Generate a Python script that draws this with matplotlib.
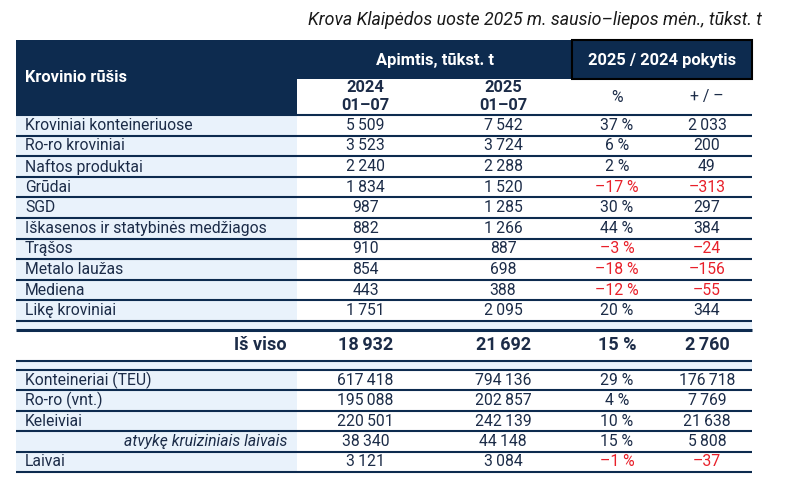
import matplotlib.pyplot as plt
from matplotlib.patches import Rectangle

plt.rcParams['font.family'] = ['Roboto', 'DejaVu Sans']

title = 'Krova Klaipėdos uoste 2025 m. sausio–liepos mėn., tūkst. t'

cargo = ['Kroviniai konteineriuose', 'Ro-ro kroviniai', 'Naftos produktai', 'Grūdai', 'SGD',
         'Iškasenos ir statybinės medžiagos', 'Trąšos', 'Metalo laužas', 'Mediena', 'Likę kroviniai']
v2024 = [5509, 3523, 2240, 1834, 987, 882, 910, 854, 443, 1751]
v2025 = [7542, 3724, 2288, 1520, 1285, 1266, 887, 698, 388, 2095]
pct = [37, 6, 2, -17, 30, 44, -3, -18, -12, 20]
diff = [2033, 200, 49, -313, 297, 384, -24, -156, -55, 344]

total_label = 'Iš viso'
total = [18932, 21692, 15, 2760]

other = ['Konteineriai (TEU)', 'Ro-ro (vnt.)', 'Keleiviai', 'atvykę kruiziniais laivais', 'Laivai']
o2024 = [617418, 195088, 220501, 38340, 3121]
o2025 = [794136, 202857, 242139, 44148, 3084]
opct = [29, 4, 10, 15, -1]
odiff = [176718, 7769, 21638, 5808, -37]

NAVY = '#0d2b4f'
TXT = '#1c2c48'
LIGHT = '#e9f2fb'
RED = '#e8202a'
FS = 11.3
HFS = 11.9


def fmt(v):
    s = f'{abs(v):,}'.replace(',', '\u2009')
    return ('–' if v < 0 else '') + s


fig = plt.figure(figsize=(7.87, 4.84), dpi=100)
ax = fig.add_axes([0, 0, 1, 1])
ax.set_xlim(0, 787)
ax.set_ylim(484, 0)
ax.axis('off')

L, R = 16, 752
cols = [16, 297, 434, 572, 662, 752]
cx = [(cols[i] + cols[i + 1]) / 2 for i in range(1, 5)]

ax.text(762, 20, title, ha='right', va='center', style='italic', fontsize=12.8, color='#1a1a1a')

# header
ax.add_patch(Rectangle((L, 40), R - L, 39, color=NAVY, lw=0))
ax.add_patch(Rectangle((L, 79), cols[1] - L, 36, color=NAVY, lw=0))
ax.add_patch(Rectangle((572, 40), 180, 39, fill=False, ec='black', lw=1.5))
ax.text(25, 78, 'Krovinio rūšis', color='white', fontweight='bold', fontsize=HFS, va='center')
ax.text((cols[1] + cols[3]) / 2, 60, 'Apimtis, tūkst. t', color='white', fontweight='bold',
        fontsize=HFS, ha='center', va='center')
ax.text((cols[3] + cols[5]) / 2, 60, '2025 / 2024 pokytis', color='white', fontweight='bold',
        fontsize=HFS, ha='center', va='center')
for x, yr in zip(cx[:2], ['2024', '2025']):
    ax.text(x, 88, yr, color=TXT, fontweight='bold', fontsize=HFS, ha='center', va='center')
    ax.text(x, 106, '01–07', color=TXT, fontweight='bold', fontsize=HFS, ha='center', va='center')
ax.text(cx[2], 97, '%', color=TXT, fontsize=FS, ha='center', va='center')
ax.text(cx[3], 97, '+ / –', color=TXT, fontsize=FS, ha='center', va='center')


def draw_rows(names, a, b, p, d, y0, h):
    for i in range(len(names)):
        top = y0 + i * h
        yc = top + h / 2
        ax.add_patch(Rectangle((L, top), cols[1] - L, h, color=LIGHT, lw=0))
        if names[i].startswith('atvykę'):
            ax.text(287, yc, names[i], ha='right', va='center', style='italic', fontsize=FS, color=TXT)
        else:
            ax.text(25, yc, names[i], ha='left', va='center', fontsize=FS, color=TXT)
        ax.text(cx[0], yc, fmt(a[i]), ha='center', va='center', fontsize=FS, color=TXT)
        ax.text(cx[1], yc, fmt(b[i]), ha='center', va='center', fontsize=FS, color=TXT)
        c = RED if p[i] < 0 else TXT
        ax.text(cx[2], yc, fmt(p[i]) + ' %', ha='center', va='center', fontsize=FS, color=c)
        c = RED if d[i] < 0 else TXT
        ax.text(cx[3], yc, fmt(d[i]), ha='center', va='center', fontsize=FS, color=c)
        ax.hlines(top + h, L, R, color=NAVY, lw=1.5)
    ax.hlines(y0, L, R, color=NAVY, lw=1.5)


draw_rows(cargo, v2024, v2025, pct, diff, 115, 20.6)

# spacer bands and total
ax.add_patch(Rectangle((L, 321), R - L, 9, color=LIGHT, lw=0))
ax.add_patch(Rectangle((L, 361), R - L, 9, color=LIGHT, lw=0))
ax.hlines(330, L, R, color=NAVY, lw=2.2)
ax.hlines(361, L, R, color=NAVY, lw=1.5)
TFS = 13
ax.text(287, 345.5, total_label, ha='right', va='center', fontweight='bold', fontsize=TFS, color=TXT)
ax.text(cx[0], 345.5, fmt(total[0]), ha='center', va='center', fontweight='bold', fontsize=TFS, color=TXT)
ax.text(cx[1], 345.5, fmt(total[1]), ha='center', va='center', fontweight='bold', fontsize=TFS, color=TXT)
ax.text(cx[2], 345.5, fmt(total[2]) + ' %', ha='center', va='center', fontweight='bold', fontsize=TFS, color=TXT)
ax.text(cx[3], 345.5, fmt(total[3]), ha='center', va='center', fontweight='bold', fontsize=TFS, color=TXT)

draw_rows(other, o2024, o2025, opct, odiff, 370, 20.4)

fig.savefig('out.png', dpi=100)
